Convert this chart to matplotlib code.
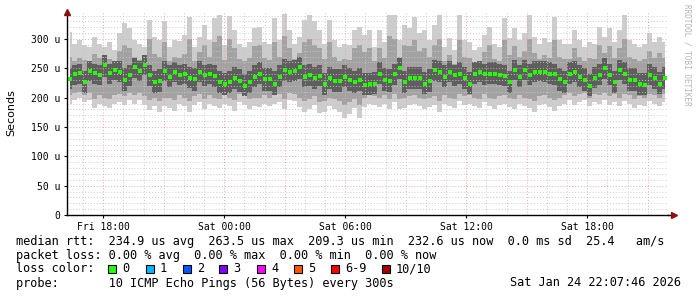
import numpy as np
import matplotlib
matplotlib.use("Agg")
import matplotlib.pyplot as plt
from matplotlib.patches import Rectangle

# time axis: hours since Fri 00:00, one sample every ~15 min
t_start = 16.2
t_step = 0.248

# median rtt (microseconds)
med = [232,240,242,226,245,242,239,255,242,247,244,230,238,252,245,256,238,226,228,245,
       236,243,239,241,234,231,244,238,241,237,226,223,227,233,229,220,227,236,241,231,
       231,223,236,247,244,246,252,236,238,233,237,223,233,229,229,236,230,227,230,222,
       223,224,241,230,229,240,250,227,233,233,233,224,229,247,244,236,244,238,241,233,
       224,241,243,240,241,241,239,237,227,247,236,247,239,243,244,243,241,240,231,226,
       241,244,236,230,220,233,239,250,239,227,247,241,230,230,223,222,239,233,224,233]

# smoke: outer (lightest) band
outer_hi = [312,292,298,290,287,304,292,287,295,281,310,327,318,298,292,287,332,304,298,330,
            287,298,296,307,338,287,304,324,298,336,341,290,340,315,292,287,295,318,321,295,
            292,335,298,343,315,292,304,332,341,330,315,292,332,298,287,292,290,315,321,307,
            315,287,315,295,341,341,298,324,318,338,310,315,298,324,341,287,301,281,341,298,
            295,281,287,307,321,292,287,335,301,318,298,310,341,304,292,301,295,338,298,292,
            292,315,298,287,295,292,321,304,318,295,315,341,298,292,287,292,310,295,304,295]
outer_lo = [190,196,199,193,196,182,190,185,182,190,193,188,196,190,196,188,179,185,176,185,
            183,178,190,185,176,188,193,180,190,186,182,190,185,178,192,188,180,186,184,190,
            186,190,192,180,196,194,184,176,180,188,174,176,186,180,175,166,172,182,166,184,
            190,188,184,190,180,192,180,182,188,190,186,180,184,188,176,190,186,182,194,188,
            190,186,182,192,185,180,188,190,184,180,190,186,182,176,188,190,184,178,186,190,
            196,188,192,196,185,192,190,196,188,192,186,194,190,182,188,185,194,190,186,192]

# smoke: middle band
mid_hi = [270,262,268,265,260,275,268,262,266,258,280,290,285,270,265,262,300,275,270,295,
          262,270,268,275,300,262,278,290,270,295,305,265,300,285,266,262,268,288,290,268,
          265,295,270,305,285,266,276,295,300,290,285,266,295,270,262,266,265,285,290,278,
          285,262,285,268,305,300,270,290,288,298,280,285,270,290,300,262,272,258,298,270,
          268,258,262,278,290,266,262,298,272,288,270,280,300,276,266,272,268,298,270,266,
          266,285,270,262,268,266,290,276,288,268,285,300,270,266,262,266,280,268,276,268]
mid_lo = [205,208,210,204,208,198,204,200,198,204,206,202,208,204,208,202,196,200,195,200,
          200,196,204,200,194,202,206,198,204,200,198,204,200,196,206,202,198,200,200,204,
          200,204,206,198,208,206,200,194,198,202,192,194,200,198,194,188,192,198,188,200,
          204,202,200,204,198,206,198,200,202,204,200,198,200,202,194,204,200,198,206,202,
          204,200,198,206,200,198,202,204,200,198,204,200,198,194,202,204,200,196,200,204,
          208,202,206,208,200,206,204,208,202,206,200,206,204,198,202,200,206,204,200,206]

# smoke: inner (darkest) band
inner_hi = [250,256,258,245,262,258,256,272,258,262,262,250,255,268,262,272,256,245,248,262,
            255,260,256,258,252,250,262,256,258,255,245,242,246,252,248,240,246,255,260,250,
            250,245,255,266,262,265,270,256,258,252,256,242,252,248,248,255,250,246,250,242,
            242,244,260,250,248,258,268,246,252,252,252,244,248,265,262,255,262,256,260,252,
            244,260,262,258,260,260,258,256,246,265,255,265,258,262,262,262,260,258,250,246,
            260,262,255,250,240,252,258,268,258,246,265,260,250,250,242,242,258,252,244,252]
inner_lo = [214,222,224,208,228,224,222,236,224,230,226,212,220,234,228,238,220,208,210,228,
            218,226,222,224,216,212,226,220,224,218,208,205,208,215,210,202,208,218,224,212,
            212,205,218,228,226,228,232,218,220,214,220,205,215,210,210,218,212,208,212,204,
            205,206,224,212,210,222,232,208,215,215,215,206,210,228,226,218,226,220,224,215,
            206,224,226,222,224,224,222,220,208,230,218,230,222,226,228,226,224,222,212,208,
            224,226,218,212,202,216,222,232,222,208,230,224,212,212,205,204,222,215,206,215]

tick_hours = [18, 24, 30, 36, 42]
tick_labels = ["Fri 18:00", "Sat 00:00", "Sat 06:00", "Sat 12:00", "Sat 18:00"]

loss_labels = ["0", "1", "2", "3", "4", "5", "6-9", "10/10"]
loss_colors = ["#26ff00", "#00b8ff", "#0059ff", "#7e00ff", "#ff00ff", "#ff5500", "#ff0000", "#a10000"]

t = t_start + t_step * (np.arange(len(med)) + 0.5)

W, H = 697, 297
fig = plt.figure(figsize=(W / 100, H / 100), dpi=100)
fig.patch.set_facecolor("white")
ax = fig.add_axes([67 / W, 82 / H, 601 / W, 203 / H])

ax.fill_between(t, outer_lo, outer_hi, step="mid", color="#cdcdcd", lw=0, zorder=1)
ax.fill_between(t, mid_lo, mid_hi, step="mid", color="#a2a2a2", lw=0, zorder=1.2)
ax.fill_between(t, inner_lo, inner_hi, step="mid", color="#5e5e5e", lw=0, zorder=1.4)
ax.plot(t, med, ls="none", marker="s", ms=2.4, mew=0, color="#26ff00", zorder=5)

ax.set_xlim(16.2, 46.0)
ax.set_ylim(0, 346)

# grid (rrdtool style, drawn over the smoke)
dot = (0, (1, 2))
for h in np.arange(17, 46, 1):
    major = (h % 3 == 0)
    ax.axvline(h, color="#e8a0a0" if major else "#c8c8c8", lw=0.7, ls=dot, zorder=3, alpha=0.9)
for v in np.arange(10, 345, 10):
    major = (v % 50 == 0)
    ax.axhline(v, color="#e8a0a0" if major else "#c8c8c8", lw=0.7, ls=dot, zorder=3, alpha=0.9)

ax.set_xticks(tick_hours)
ax.set_xticklabels(tick_labels, family="DejaVu Sans Mono", fontsize=7)
yt = np.arange(0, 301, 50)
ax.set_yticks(yt)
ax.set_yticklabels(["0" if v == 0 else "%d u" % v for v in yt], family="DejaVu Sans Mono", fontsize=7)
ax.tick_params(axis="both", length=2, width=0.8, pad=3, color="#000000")

for s in ["top", "right"]:
    ax.spines[s].set_visible(False)
for s in ["left", "bottom"]:
    ax.spines[s].set_color("#000000")
    ax.spines[s].set_linewidth(1.0)
    ax.spines[s].set_zorder(6)

ax.plot([1.0, 1.008], [0, 0], transform=ax.transAxes, color="#000000", lw=1, clip_on=False)
ax.plot(1.01, 0, marker=">", ms=4, color="#8b1010", transform=ax.transAxes, clip_on=False, zorder=7)
ax.plot(0, 1.0, marker="^", ms=4, color="#8b1010", transform=ax.transAxes, clip_on=False, zorder=7)

fig.text(11 / W, 1 - 113 / H, "Seconds", rotation=90, ha="center", va="center",
         family="DejaVu Sans", fontsize=8)
fig.text(687 / W, 1 - 4 / H, "RRDTOOL / TOBI OETIKER", rotation=270, ha="center", va="top",
         family="DejaVu Sans Mono", fontsize=5.5, color="#b4b4b4")

mono = dict(family="DejaVu Sans Mono", fontsize=8.52, va="center", ha="left")
fig.text(16 / W, 1 - 241 / H,
         "median rtt:  234.9 us avg  263.5 us max  209.3 us min  232.6 us now  0.0 ms sd  25.4   am/s", **mono)
fig.text(16 / W, 1 - 255 / H,
         "packet loss: 0.00 % avg  0.00 % max  0.00 % min  0.00 % now", **mono)
fig.text(16 / W, 1 - 269 / H, "loss color:", **mono)
fig.text(16 / W, 1 - 283 / H, "probe:       10 ICMP Echo Pings (56 Bytes) every 300s", **mono)
fig.text(681 / W, 1 - 283 / H, "Sat Jan 24 22:07:46 2026",
         family="DejaVu Sans Mono", fontsize=8.52, va="center", ha="right")

sq_x = [108, 146, 183, 219, 257, 294, 331, 382]
for x0, lab, col in zip(sq_x, loss_labels, loss_colors):
    fig.patches.append(Rectangle((x0 / W, 1 - 273 / H), 8 / W, 8 / H, transform=fig.transFigure,
                                 facecolor=col, edgecolor="#000000", lw=0.8))
    fig.text((x0 + 14) / W, 1 - 269 / H, lab, **mono)

fig.savefig("out.png", dpi=100)
